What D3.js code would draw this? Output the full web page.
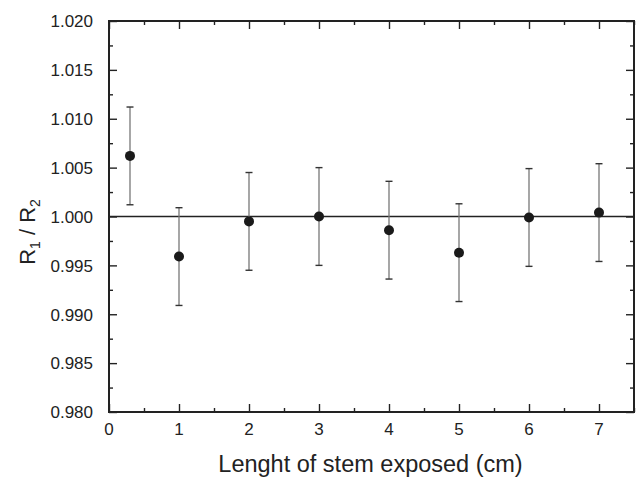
<!DOCTYPE html>
<html><head><meta charset="utf-8">
<script src="https://cdn.jsdelivr.net/npm/d3@7"></script>
<style>
body{margin:0;background:#fff;}
svg{display:block;}
</style>
</head><body>
<svg id="c" width="639" height="477"></svg>
<script>
const xValues = [0.3, 1, 2, 3, 4, 5, 6, 7];
const yValues = [1.0062, 0.9959, 0.9995, 1.0000, 0.9986, 0.9963, 0.9999, 1.0004];
const yErrors = [0.0050, 0.0050, 0.0050, 0.0050, 0.0050, 0.0050, 0.0050, 0.0050];
const xMajorTicks = [0, 1, 2, 3, 4, 5, 6, 7];
const xMinorTicks = [0.5, 1.5, 2.5, 3.5, 4.5, 5.5, 6.5, 7.5];
const yMajorTicks = [0.980, 0.985, 0.990, 0.995, 1.000, 1.005, 1.010, 1.015, 1.020];
const yMinorTicks = [0.9825, 0.9875, 0.9925, 0.9975, 1.0025, 1.0075, 1.0125, 1.0175];
const referenceLine = 1.000;
const xLabel = "Lenght of stem exposed (cm)";

const L = 109, R = 634, T = 21, B = 412;
const FONT = "'Liberation Sans', Arial, Helvetica, sans-serif";
const svg = d3.select("#c");
const x = d3.scaleLinear().domain([0, 7.5]).range([L, R]);
const y = d3.scaleLinear().domain([0.980, 1.020]).range([B, T]);
const axisColor = "#222";

function styleAxis(g) {
  g.select(".domain").remove();
  g.selectAll("line").attr("stroke", axisColor).attr("stroke-width", 1.4);
  g.selectAll("text").remove();
}
// inward ticks on all four sides
const axes = [
  [d3.axisBottom(x).tickValues(xMajorTicks), `translate(0,${B})`, 8],
  [d3.axisBottom(x).tickValues(xMinorTicks), `translate(0,${B})`, 4],
  [d3.axisTop(x).tickValues(xMajorTicks), `translate(0,${T})`, 8],
  [d3.axisTop(x).tickValues(xMinorTicks), `translate(0,${T})`, 4],
  [d3.axisLeft(y).tickValues(yMajorTicks), `translate(${L},0)`, 8],
  [d3.axisLeft(y).tickValues(yMinorTicks), `translate(${L},0)`, 4],
  [d3.axisRight(y).tickValues(yMajorTicks), `translate(${R},0)`, 8],
  [d3.axisRight(y).tickValues(yMinorTicks), `translate(${R},0)`, 4]
];
axes.forEach(([ax, tr, len]) => {
  svg.append("g").attr("transform", tr)
    .call(ax.tickSizeInner(-len).tickSizeOuter(0).tickFormat(""))
    .call(styleAxis);
});

// tick labels
const fx = d3.format("d"), fy = d3.format(".3f");
svg.append("g").selectAll("text").data(xMajorTicks).join("text")
  .attr("x", d => x(d)).attr("y", 435)
  .attr("text-anchor", "middle")
  .attr("font-family", FONT).attr("font-size", "17px").attr("fill", "#222")
  .text(d => fx(d));
svg.append("g").selectAll("text").data(yMajorTicks).join("text")
  .attr("x", 93).attr("y", d => y(d) + 6.3)
  .attr("text-anchor", "end")
  .attr("font-family", FONT).attr("font-size", "17px").attr("fill", "#222")
  .text(d => fy(d));

// frame
svg.append("rect").attr("x", L).attr("y", T).attr("width", R - L).attr("height", B - T)
  .attr("fill", "none").attr("stroke", axisColor).attr("stroke-width", 2);

// reference line
svg.append("line").attr("x1", L).attr("x2", R).attr("y1", y(referenceLine)).attr("y2", y(referenceLine))
  .attr("stroke", "#222").attr("stroke-width", 1.4);

// error bars and points
const data = xValues.map((v, i) => ({x: v, y: yValues[i], e: yErrors[i]}));
const eb = svg.append("g");
eb.selectAll(".v").data(data).join("line").attr("class", "v")
  .attr("x1", d => x(d.x)).attr("x2", d => x(d.x))
  .attr("y1", d => y(d.y + d.e)).attr("y2", d => y(d.y - d.e))
  .attr("stroke", "#777").attr("stroke-width", 1.3);
eb.selectAll(".ct").data(data).join("line").attr("class", "ct")
  .attr("x1", d => x(d.x) - 3.5).attr("x2", d => x(d.x) + 3.5)
  .attr("y1", d => y(d.y + d.e)).attr("y2", d => y(d.y + d.e))
  .attr("stroke", "#333").attr("stroke-width", 1.4);
eb.selectAll(".cb").data(data).join("line").attr("class", "cb")
  .attr("x1", d => x(d.x) - 3.5).attr("x2", d => x(d.x) + 3.5)
  .attr("y1", d => y(d.y - d.e)).attr("y2", d => y(d.y - d.e))
  .attr("stroke", "#333").attr("stroke-width", 1.4);
svg.append("g").selectAll("circle").data(data).join("circle")
  .attr("cx", d => x(d.x)).attr("cy", d => y(d.y)).attr("r", 5)
  .attr("fill", "#1a1a1a");

// axis titles
svg.append("text").attr("x", (L + R) / 2 - 1).attr("y", 472).attr("text-anchor", "middle")
  .attr("font-family", FONT).attr("font-size", "23.5px").attr("fill", "#222").text(xLabel);

const yl = svg.append("text").attr("transform", "translate(35,232) rotate(-90)")
  .attr("text-anchor", "middle").attr("font-family", FONT).attr("font-size", "22px").attr("fill", "#222");
yl.append("tspan").text("R");
yl.append("tspan").attr("font-size", "14px").attr("dy", 5).text("1");
yl.append("tspan").attr("dy", -5).text(" / R");
yl.append("tspan").attr("font-size", "14px").attr("dy", 5).text("2");
</script>
</body></html>
